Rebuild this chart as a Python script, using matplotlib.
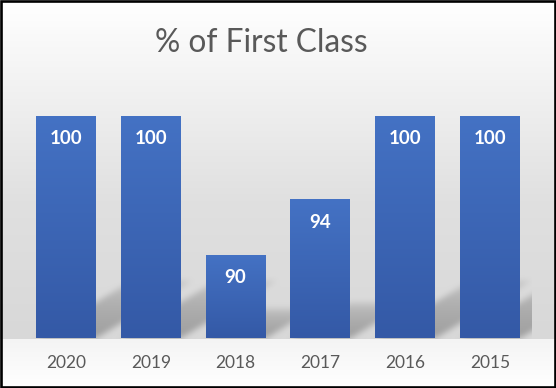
import numpy as np
import matplotlib
matplotlib.use("Agg")
import matplotlib.pyplot as plt
from matplotlib.colors import LinearSegmentedColormap
from matplotlib.patches import Rectangle

years = ["2020", "2019", "2018", "2017", "2016", "2015"]
values = [100, 100, 90, 94, 100, 100]
title = "% of First Class"
y_min, y_max = 84, 102

W, H = 556, 388
DPI = 100
FONT = "Lato"

fig = plt.figure(figsize=(W / DPI, H / DPI), dpi=DPI)

# background axes covering whole figure
bg = fig.add_axes([0, 0, 1, 1], zorder=0)
bg.set_axis_off()

ax = fig.add_axes([23.6 / W, 50 / H, 508.8 / W, 250 / H], zorder=1)
ax.set_facecolor("none")
x = np.arange(len(years))
bars = ax.bar(x, values, width=0.707, color="#4472c4", zorder=3)
ax.set_xlim(-0.5, len(years) - 0.5)
ax.set_ylim(y_min, y_max)
for s in ax.spines.values():
    s.set_visible(False)
ax.set_yticks([])
ax.set_xticks(x)
ax.set_xticklabels(years, fontsize=12.5, color="#595959", family=FONT)
ax.tick_params(axis="x", length=0, pad=12.5)

# gradient fill on bars
cmap = LinearSegmentedColormap.from_list("bar", ["#3459a6", "#4472c4"])
grad = np.linspace(0, 1, 256).reshape(-1, 1)
for b in bars:
    x0, w, h = b.get_x(), b.get_width(), b.get_height()
    im = ax.imshow(grad, extent=[x0, x0 + w, y_min, h], aspect="auto",
                   cmap=cmap, origin="lower", zorder=3.5, interpolation="bilinear")
    im.set_clip_path(b)

for xi, v in zip(x, values):
    ax.annotate(str(v), (xi, v), xytext=(0, -16.5), textcoords="offset points",
                ha="center", va="center", color="white", fontsize=13.5,
                fontweight="bold", family=FONT, zorder=5)

fig.text(261.5 / W, 1 - 52 / H, title, ha="center", va="baseline", fontsize=22.8,
         color="#595959", family=FONT)

# background gradient image (pixel grid, row 0 = top)
fig.canvas.draw()
to_px = ax.transData.transform
yy = np.arange(H).reshape(-1, 1).astype(float)
base_disp = to_px((0, y_min))[1]
base_row = H - base_disp
top_part = np.interp(yy, [0, 60, 200, base_row], [255, 246, 224, 216])
bot_part = np.interp(yy, [base_row, H], [244, 255])
gray = np.where(yy <= base_row, top_part, bot_part) * np.ones((1, W))

# perspective shadows derived from bar geometry (data -> pixels)
shadow = np.zeros((H, W))
cols = np.arange(W).reshape(1, -1).astype(float)
rows_disp = H - 0.5 - yy
ax_right = to_px((len(years) - 0.5, y_min))[0]
for b in bars:
    bx0, yb = to_px((b.get_x(), y_min))
    bx1, yt = to_px((b.get_x() + b.get_width(), b.get_height()))
    sh = max(0.26 * (yt - yb), 30)
    dy = rows_disp - yb
    inside_y = (dy >= 0) & (dy <= sh)
    off = dy / 0.6
    inside_x = (cols >= bx0 + off) & (cols <= bx1 + off)
    fade = np.clip(1 - dy / sh, 0, 1) ** 0.35
    shadow = np.maximum(shadow, np.where(inside_y & inside_x, fade, 0.0))

def box_blur(a, r):
    k = np.ones(2 * r + 1) / (2 * r + 1)
    a = np.apply_along_axis(lambda m: np.convolve(m, k, mode="same"), 0, a)
    a = np.apply_along_axis(lambda m: np.convolve(m, k, mode="same"), 1, a)
    return a

shadow = box_blur(box_blur(shadow, 3), 3)
shadow[:, int(ax_right):] = 0
shadow[int(round(base_row)) + 1:, :] = 0
gray = gray * (1 - 0.26 * shadow)
img = np.clip(gray, 0, 255).astype(np.uint8)
rgb = np.stack([img] * 3, axis=-1)
bg.imshow(rgb, extent=[0, W, 0, H], aspect="auto", interpolation="nearest",
          origin="upper")
bg.set_xlim(0, W)
bg.set_ylim(0, H)

# border
fig.patches.append(Rectangle((1.2 / W, 1.2 / H), 1 - 2.4 / W, 1 - 2.4 / H,
                             transform=fig.transFigure, fill=False,
                             edgecolor="black", linewidth=1.9, zorder=10))

fig.savefig("out.png", dpi=DPI)
